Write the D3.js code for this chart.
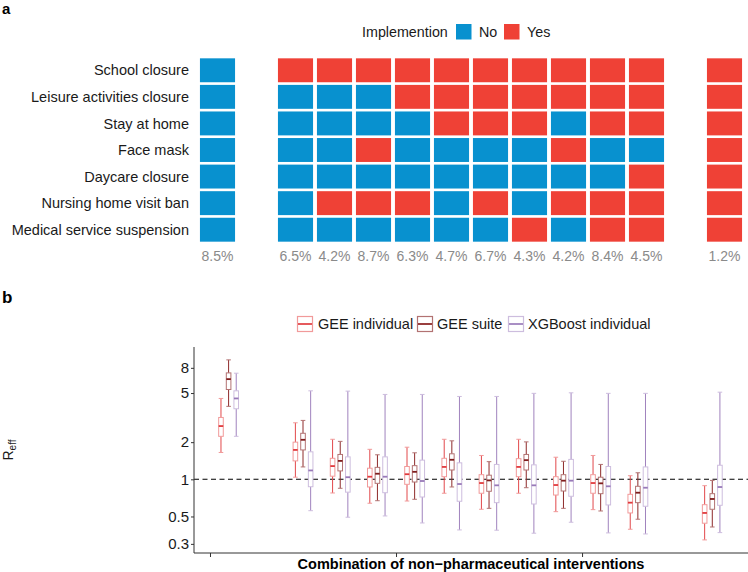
<!DOCTYPE html>
<html><head><meta charset="utf-8">
<script src="https://cdn.jsdelivr.net/npm/d3@7"></script>
<style>
body{margin:0;background:#fff;}
svg{display:block;font-family:"Liberation Sans",Arial,Helvetica,sans-serif;}
</style></head>
<body><svg id="chart" width="748" height="572"></svg>
<script>
// ---------- DATA ----------
const interventions = ["School closure","Leisure activities closure","Stay at home","Face mask","Daycare closure","Nursing home visit ban","Medical service suspension"];
const combos = ["C1","C2","C3","C4","C5","C6","C7","C8","C9","C10","C11","C12"];
// column order incl. visual gaps
const slotOrder = ["C1","gapA","C2","C3","C4","C5","C6","C7","C8","C9","C10","C11","gapB","C12"];
// implementation (1 = Yes) per combination, in the order of `interventions`
const implC1  = [0,0,0,0,0,0,0];
const implC2  = [1,0,0,0,0,0,0];
const implC3  = [1,0,0,0,0,1,0];
const implC4  = [1,0,0,1,0,1,0];
const implC5  = [1,1,0,0,0,1,0];
const implC6  = [1,1,1,0,0,0,0];
const implC7  = [1,1,1,0,0,1,0];
const implC8  = [1,1,1,0,0,0,1];
const implC9  = [1,1,0,1,0,1,0];
const implC10 = [1,1,1,0,0,1,1];
const implC11 = [1,1,1,0,1,1,1];
const implC12 = [1,1,1,1,1,1,1];
const shares = [8.5,6.5,4.2,8.7,6.3,4.7,6.7,4.3,4.2,8.4,4.5,1.2];

const models = ["GEE individual","GEE suite","XGBoost individual"];
// [lower whisker, Q1, median, Q3, upper whisker] per combination
const geeIndividual = [
 [1.65,2.23,2.70,3.17,4.52],[1.04,1.41,1.73,2.00,2.87],[0.775,1.06,1.28,1.48,2.11],
 [0.64,0.867,1.05,1.23,1.75],[0.667,0.911,1.10,1.27,1.82],[0.771,1.05,1.26,1.48,2.11],
 [0.572,0.771,0.933,1.09,1.56],[0.771,1.05,1.26,1.47,2.11],[0.547,0.746,0.899,1.05,1.51],
 [0.568,0.771,0.933,1.09,1.56],[0.394,0.534,0.647,0.756,1.07],[0.323,0.441,0.534,0.623,0.888]];
const geeSuite = [
 [3.90,5.34,6.48,7.28,9.28],[1.26,1.73,2.09,2.36,3.00],[0.846,1.17,1.41,1.59,2.03],
 [0.671,0.928,1.11,1.25,1.58],[0.689,0.951,1.15,1.29,1.64],[0.867,1.19,1.44,1.61,2.05],
 [0.582,0.80,0.98,1.08,1.39],[0.855,1.19,1.43,1.59,2.01],[0.582,0.804,0.975,1.09,1.40],
 [0.554,0.765,0.928,1.04,1.32],[0.475,0.647,0.779,0.878,1.13],[0.411,0.572,0.693,0.765,0.98]];
const xgbIndividual = [
 [2.23,3.73,4.52,5.21,7.24],[0.557,0.871,1.18,1.67,5.21],[0.493,0.787,1.04,1.52,5.18],
 [0.505,0.779,1.05,1.52,4.87],[0.443,0.719,0.969,1.43,4.87],[0.389,0.664,0.916,1.36,4.69],
 [0.387,0.647,0.894,1.32,4.69],[0.366,0.631,0.894,1.31,4.97],[0.449,0.729,0.975,1.45,5.02],
 [0.368,0.620,0.878,1.27,4.97],[0.361,0.605,0.855,1.26,4.97],[0.370,0.616,0.866,1.30,5.08]];
const yTicks = [0.3,0.5,1,2,5,8];
const xBreaks = [-0.5,4.5,9.5];
const refLine = 1;

// ---------- STYLES ----------
const colNo = "#0891CF", colYes = "#EF4136";
const modelColor = ["#E2484B","#8E2A2A","#A083BE"];
const boxColor   = ["#F19A9A","#B27272","#CDBDDE"];
const medColor   = ["#E03A3D","#7F1C1C","#9879B8"];
const txt = "#1a1a1a";

const svg = d3.select("#chart");

// ================= PANEL A =================
const implByCombo = [implC1,implC2,implC3,implC4,implC5,implC6,implC7,implC8,implC9,implC10,implC11,implC12];
const xa = d3.scaleBand().domain(slotOrder).range([198,744]).paddingInner(0.1).paddingOuter(0.05);
const ya = d3.scaleBand().domain(interventions).range([57,243]).paddingInner(0.1).paddingOuter(0.05);

svg.append("text").attr("x",2).attr("y",14).attr("font-size",15).attr("font-weight","bold").text("a");

const cells = [];
combos.forEach((c,ci)=>interventions.forEach((iv,ri)=>cells.push({c,iv,v:implByCombo[ci][ri]})));
svg.append("g").selectAll("rect").data(cells).join("rect")
  .attr("x",d=>xa(d.c)).attr("y",d=>ya(d.iv))
  .attr("width",xa.bandwidth()).attr("height",ya.bandwidth())
  .attr("fill",d=>d.v? colYes: colNo);

svg.append("g").selectAll("text").data(interventions).join("text")
  .attr("x",189).attr("y",d=>ya(d)+ya.bandwidth()/2).attr("dy","0.35em")
  .attr("text-anchor","end").attr("font-size",14.5).attr("fill",txt).text(d=>d);

svg.append("g").selectAll("text").data(combos).join("text")
  .attr("x",d=>xa(d)+xa.bandwidth()/2).attr("y",260.5)
  .attr("text-anchor","middle").attr("font-size",14).attr("fill","#8a8a8a")
  .text((d,i)=>shares[i].toFixed(1)+"%");

// legend a
const la = svg.append("g");
la.append("text").attr("x",362).attr("y",37).attr("font-size",14.3).attr("fill",txt).text("Implemention");
[["No",colNo,456,479],["Yes",colYes,504,527]].forEach(([t,c,kx,tx])=>{
  la.append("rect").attr("x",kx).attr("y",24).attr("width",15.5).attr("height",15.5).attr("fill",c);
  la.append("text").attr("x",tx).attr("y",37).attr("font-size",14.3).attr("fill",txt).text(t);
});

// ================= PANEL B =================
svg.append("text").attr("x",2).attr("y",302.5).attr("font-size",17).attr("font-weight","bold").text("b");

const xb = d3.scaleLinear().domain([-0.93,13.96]).range([194,748]);
const yb = d3.scaleLog().domain([0.253,11.8]).range([553,347]);
const slotIndex = c => slotOrder.indexOf(c);
const dodge = [-0.205,0,0.205];
const halfW = 2.3;

// reference dashed line
svg.append("line").attr("x1",xb.range()[0]).attr("x2",xb.range()[1])
  .attr("y1",yb(refLine)).attr("y2",yb(refLine))
  .attr("stroke","#000").attr("stroke-width",1.1).attr("stroke-dasharray","5,3.5");

const modelData = [geeIndividual,geeSuite,xgbIndividual];
const boxes = [];
modelData.forEach((arr,mi)=>arr.forEach((s,ci)=>boxes.push({mi,cx:xb(slotIndex(combos[ci])+dodge[mi]),s})));

const gb = svg.append("g");
const bx = gb.selectAll("g").data(boxes).join("g");
// whiskers
bx.append("line").attr("x1",d=>d.cx).attr("x2",d=>d.cx).attr("y1",d=>yb(d.s[0])).attr("y2",d=>yb(d.s[1]))
  .attr("stroke",d=>modelColor[d.mi]).attr("stroke-width",1);
bx.append("line").attr("x1",d=>d.cx).attr("x2",d=>d.cx).attr("y1",d=>yb(d.s[3])).attr("y2",d=>yb(d.s[4]))
  .attr("stroke",d=>modelColor[d.mi]).attr("stroke-width",1);
// caps
[0,4].forEach(k=>{
  bx.append("line").attr("x1",d=>d.cx-halfW).attr("x2",d=>d.cx+halfW)
    .attr("y1",d=>yb(d.s[k])).attr("y2",d=>yb(d.s[k]))
    .attr("stroke",d=>boxColor[d.mi]).attr("stroke-width",1);
});
// box
bx.append("rect").attr("x",d=>d.cx-halfW).attr("width",halfW*2)
  .attr("y",d=>yb(d.s[3])).attr("height",d=>yb(d.s[1])-yb(d.s[3]))
  .attr("fill","#fff").attr("stroke",d=>boxColor[d.mi]).attr("stroke-width",1);
// median
bx.append("line").attr("x1",d=>d.cx-halfW).attr("x2",d=>d.cx+halfW)
  .attr("y1",d=>yb(d.s[2])).attr("y2",d=>yb(d.s[2]))
  .attr("stroke",d=>medColor[d.mi]).attr("stroke-width",1.8);

// axes
const yAxis = d3.axisLeft(yb).tickValues(yTicks).tickFormat(d3.format("")).tickSize(3).tickPadding(2);
const gy = svg.append("g").attr("transform","translate(194,0)").call(yAxis);
gy.select(".domain").attr("d","M0,347V553").attr("stroke","#333");
gy.selectAll(".tick line").attr("stroke","#333");
gy.selectAll(".tick text").attr("font-size",15).attr("fill",txt).attr("font-family","Liberation Sans, Arial, sans-serif");

const xAxis = d3.axisBottom(xb).tickValues(xBreaks).tickFormat("").tickSize(4);
const gx = svg.append("g").attr("transform","translate(0,553)").call(xAxis);
gx.select(".domain").attr("d","M194,0H748").attr("stroke","#333");
gx.selectAll(".tick line").attr("stroke","#333");

// axis titles
svg.append("text").attr("x",471).attr("y",568.5).attr("text-anchor","middle")
  .attr("font-size",14.5).attr("font-weight","bold").attr("fill","#000")
  .text("Combination of non\u2212pharmaceutical interventions");
const yt = svg.append("text").attr("transform","translate(13,450) rotate(-90)")
  .attr("text-anchor","middle").attr("font-size",14).attr("fill",txt);
yt.append("tspan").text("R");
yt.append("tspan").attr("font-size",10).attr("dy",3).text("eff");

// legend b
const legItems = [[297,318],[417,437],[508,528]];
const lb = svg.append("g");
models.forEach((m,i)=>{
  const [kx,tx] = legItems[i];
  lb.append("rect").attr("x",kx+0.5).attr("y",316.5).attr("width",15).attr("height",15)
    .attr("fill","#fff").attr("stroke",boxColor[i]).attr("stroke-width",1.2);
  lb.append("line").attr("x1",kx+1).attr("x2",kx+15).attr("y1",324).attr("y2",324)
    .attr("stroke",modelColor[i]).attr("stroke-width",1.8);
  lb.append("text").attr("x",tx).attr("y",329).attr("font-size",14.5).attr("fill",txt).text(m);
});
</script></body></html>
